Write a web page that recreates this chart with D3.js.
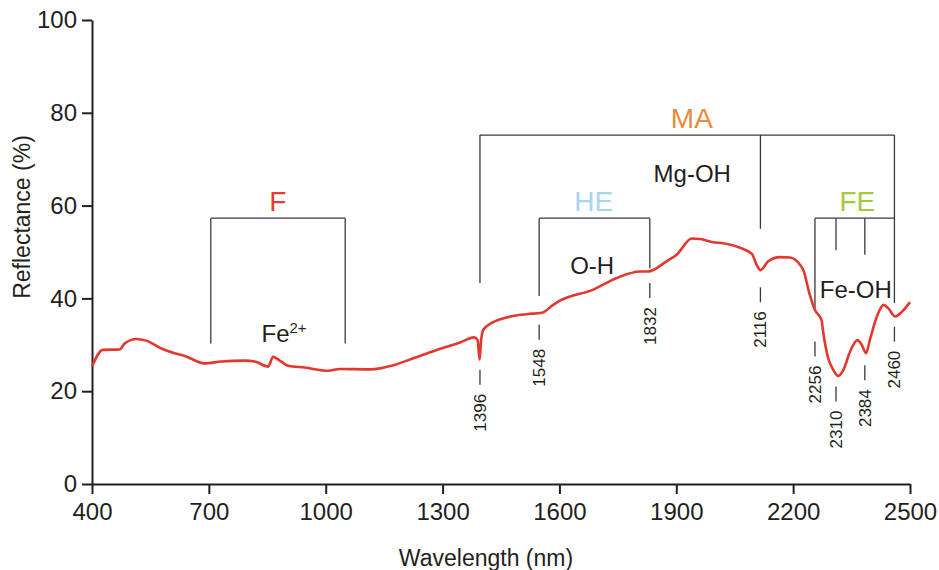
<!DOCTYPE html>
<html>
<head>
<meta charset="utf-8">
<script src="https://cdn.jsdelivr.net/npm/d3@7"></script>
<style>
  body { margin: 0; background: #fff; }
  svg { display: block; }
  text { font-family: "Liberation Sans", Arial, Helvetica, sans-serif; fill: #231f20; }
</style>
</head>
<body>
<svg id="chart" width="939" height="570"></svg>
<script>
// Spectrum
const wavelength = [400, 428, 471, 484, 514, 539, 578, 612, 638, 689, 732, 792, 818, 852, 865, 882, 903, 946,
  1006, 1037, 1114, 1174, 1225, 1285, 1345, 1381, 1390, 1395, 1399, 1405, 1422, 1465, 1516, 1555, 1584, 1601,
  1687, 1747, 1807, 1828, 1875, 1901, 1940, 1961, 1995, 2021, 2064, 2094, 2106, 2116, 2136, 2166, 2192, 2218,
  2226, 2243, 2256, 2273, 2277, 2290, 2303, 2316, 2329, 2346, 2365, 2376, 2387, 2398, 2415, 2432, 2444, 2462,
  2479, 2500];
const reflectance = [25.3, 28.9, 29.0, 30.3, 31.25, 30.9, 29.2, 28.2, 27.6, 26.0, 26.4, 26.6, 26.4, 25.3, 27.4, 26.6, 25.5, 25.1,
  24.4, 24.8, 24.7, 25.6, 27.1, 28.9, 30.5, 31.6, 31.0, 26.8, 31.0, 33.3, 34.5, 35.9, 36.6, 36.9, 38.6, 39.5,
  41.9, 44.4, 45.8, 45.8, 48.0, 49.4, 52.9, 52.8, 52.1, 51.9, 50.9, 49.6, 47.3, 46.1, 48.0, 48.9, 48.8, 47.2,
  46.1, 40.7, 37.5, 35.3, 32.8, 27.1, 24.6, 23.3, 24.6, 28.5, 31.0, 30.0, 28.2, 31.4, 36.1, 38.6, 37.9, 36.1,
  37.1, 39.2];

const xTicks = [400, 700, 1000, 1300, 1600, 1900, 2200, 2500];
const yTicks = [0, 20, 40, 60, 80, 100];

// Absorption features marked below the curve
const featureNm = [1396, 1548, 1832, 2116, 2256, 2310, 2384, 2460];
const featureMarkTop = [24.6, 34.3, 43.3, 42.4, 30.7, 21.0, 25.6, 33.9];

// Mineral groups (brackets)
const groupNames = ["F", "HE", "MA", "FE"];
const groupColors = ["#e63b2f", "#a8d4ee", "#ea8a3b", "#a8c83c"];
const groupStart = [705, 1548, 1396, 2256];
const groupEnd = [1050, 1832, 2460, 2460];
const groupTop = [57.3, 57.3, 75.2, 57.3];
const groupLabelNm = [877, 1688, 1940, 2365];
const groupLegs = [[705, 1050], [1548, 1832], [1396, 2116, 2460], [2256, 2310, 2384]];
const groupLegEnd = [[30.3, 30.3], [40.5, 46.5], [43.3, 55.0, 39.0], [37.9, 50.4, 49.4]];

// Bond labels
const bondNames = ["Fe", "O-H", "Mg-OH", "Fe-OH"];
const bondNm = [893, 1684, 1941, 2361];
const bondLevel = [30.7, 45.3, 65.1, 40.1];

const width = 939, height = 570;
const margin = { top: 20, right: 29, bottom: 86, left: 92 };

const svg = d3.select("#chart");
const x = d3.scaleLinear().domain([400, 2500]).range([margin.left, width - margin.right]);
const y = d3.scaleLinear().domain([0, 100]).range([height - margin.bottom, margin.top]);

// Axes
const gx = svg.append("g")
  .attr("transform", `translate(0,${height - margin.bottom})`)
  .call(d3.axisBottom(x).tickValues(xTicks).tickFormat(d3.format("d"))
    .tickSize(10).tickPadding(9).tickSizeOuter(0));
const gy = svg.append("g")
  .attr("transform", `translate(${margin.left},0)`)
  .call(d3.axisLeft(y).tickValues(yTicks).tickFormat(d3.format("d"))
    .tickSize(10).tickPadding(5).tickSizeOuter(0));
[gx, gy].forEach(g => {
  g.selectAll("path, line").attr("stroke", "#231f20").attr("stroke-width", 2);
  g.selectAll("text").attr("font-size", 24).attr("fill", "#231f20");
});

svg.append("text")
  .attr("x", 486).attr("y", 566)
  .attr("text-anchor", "middle").attr("font-size", 23)
  .text("Wavelength (nm)");
svg.append("text")
  .attr("transform", "translate(30,217) rotate(-90)")
  .attr("text-anchor", "middle").attr("font-size", 23)
  .text("Reflectance (%)");

// Brackets
const bracketStroke = "#3b3838";
groupNames.forEach((name, i) => {
  const g = svg.append("g").attr("fill", "none").attr("stroke", bracketStroke).attr("stroke-width", 1.3);
  g.append("line")
    .attr("x1", x(groupStart[i])).attr("x2", x(groupEnd[i]))
    .attr("y1", y(groupTop[i])).attr("y2", y(groupTop[i]));
  groupLegs[i].forEach((nm, j) => {
    g.append("line")
      .attr("x1", x(nm)).attr("x2", x(nm))
      .attr("y1", y(groupTop[i])).attr("y2", y(groupLegEnd[i][j]));
  });
  svg.append("text")
    .attr("x", x(groupLabelNm[i])).attr("y", y(groupTop[i]) - 7)
    .attr("text-anchor", "middle").attr("font-size", 28)
    .style("fill", groupColors[i])
    .text(name);
});

// Bond labels
bondNames.forEach((name, i) => {
  const t = svg.append("text")
    .attr("x", x(bondNm[i])).attr("y", y(bondLevel[i]))
    .attr("text-anchor", "middle").attr("font-size", 24)
    .text(name);
  if (i === 0) t.append("tspan").attr("dy", -9).attr("font-size", 15).text("2+");
});

// Feature marks and wavelength labels
featureNm.forEach((nm, i) => {
  const top = y(featureMarkTop[i]);
  svg.append("line")
    .attr("x1", x(nm)).attr("x2", x(nm))
    .attr("y1", top).attr("y2", top + 15)
    .attr("stroke", bracketStroke).attr("stroke-width", 1.3);
  svg.append("text")
    .attr("transform", `translate(${x(nm) + 6},${top + 24}) rotate(-90)`)
    .attr("text-anchor", "end").attr("font-size", 17)
    .text(nm);
});

// Spectrum line
const line = d3.line()
  .x((d, i) => x(wavelength[i]))
  .y(d => y(d))
  .curve(d3.curveMonotoneX);
svg.append("path")
  .datum(reflectance)
  .attr("fill", "none")
  .attr("stroke", "#e2382e")
  .attr("stroke-width", 2.6)
  .attr("stroke-linejoin", "round")
  .attr("d", line);
</script>
</body>
</html>
